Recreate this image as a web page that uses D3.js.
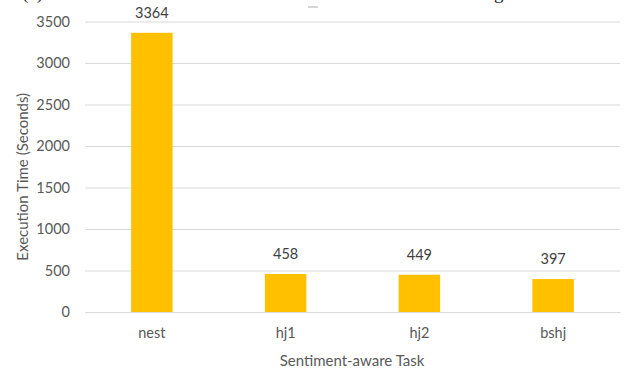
<!DOCTYPE html>
<html>
<head>
<meta charset="utf-8">
<script src="https://cdn.jsdelivr.net/npm/d3@7"></script>
<style>
  html, body { margin: 0; padding: 0; background: #fff; }
  svg { display: block; }
</style>
</head>
<body>
<svg id="chart" width="625" height="370"></svg>
<script>
// Execution time per sentiment-aware task
const tasks = ["nest", "hj1", "hj2", "bshj"];
const seconds = [3364, 458, 449, 397];
const yTicks = [0, 500, 1000, 1500, 2000, 2500, 3000, 3500];

const W = 625, H = 370;
const margin = { left: 85, right: 5, top: 21.5, bottom: 58 };
const font = "Lato, 'Open Sans', sans-serif";

const svg = d3.select("#chart");

const x = d3.scaleBand()
  .domain(tasks)
  .range([margin.left, W - margin.right])
  .paddingInner(0.69)
  .paddingOuter(0.345);

const y = d3.scaleLinear()
  .domain([0, 3500])
  .range([H - margin.bottom, margin.top]);

// Caption fragments from the figure above (clipped at the top edge)
svg.append("text").attr("x", 22).attr("y", -1)
  .attr("font-family", "'Liberation Serif', serif").attr("font-size", 19)
  .attr("fill", "#222").text("(c)");
svg.append("text").attr("x", 494).attr("y", -1)
  .attr("font-family", "'Liberation Serif', serif").attr("font-size", 19)
  .attr("fill", "#222").text("g");
svg.append("line").attr("x1", 308).attr("x2", 318).attr("y1", 7).attr("y2", 7)
  .attr("stroke", "#bbb").attr("stroke-width", 1.2);

// Horizontal gridlines + y tick labels
const yAxis = d3.axisLeft(y).tickValues(yTicks).tickFormat(d3.format("d"))
  .tickSize(-(W - margin.left - margin.right)).tickPadding(15);
const gy = svg.append("g")
  .attr("transform", `translate(${margin.left},0)`)
  .call(yAxis);
gy.select(".domain").remove();
gy.selectAll(".tick line").attr("stroke", "#d9d9d9").attr("stroke-width", 1);
gy.selectAll(".tick text")
  .attr("font-family", font).attr("font-size", 14.5).attr("fill", "#595959");

// X axis labels
const xAxis = d3.axisBottom(x).tickSize(0).tickPadding(16);
const gx = svg.append("g")
  .attr("transform", `translate(0,${y(0)})`)
  .call(xAxis);
gx.select(".domain").attr("stroke", "#d9d9d9");
gx.selectAll(".tick text")
  .attr("font-family", font).attr("font-size", 14.5).attr("fill", "#595959");

// Bars
svg.append("g").selectAll("rect")
  .data(tasks)
  .join("rect")
  .attr("x", d => x(d))
  .attr("width", x.bandwidth())
  .attr("y", (d, i) => y(seconds[i]))
  .attr("height", (d, i) => y(0) - y(seconds[i]))
  .attr("fill", "#ffc000");

// Value labels
svg.append("g").selectAll("text")
  .data(tasks)
  .join("text")
  .attr("x", d => x(d) + x.bandwidth() / 2)
  .attr("y", (d, i) => y(seconds[i]) - 15)
  .attr("text-anchor", "middle")
  .attr("font-family", font).attr("font-size", 14.5).attr("fill", "#404040")
  .text((d, i) => seconds[i]);

// Axis titles
svg.append("text")
  .attr("transform", `translate(28,${(y(0) + y(3500)) / 2 + 10}) rotate(-90)`)
  .attr("text-anchor", "middle")
  .attr("font-family", font).attr("font-size", 15).attr("fill", "#595959")
  .text("Execution Time (Seconds)");

svg.append("text")
  .attr("x", 352).attr("y", 366)
  .attr("text-anchor", "middle")
  .attr("font-family", font).attr("font-size", 15).attr("fill", "#595959")
  .text("Sentiment-aware Task");
</script>
</body>
</html>
